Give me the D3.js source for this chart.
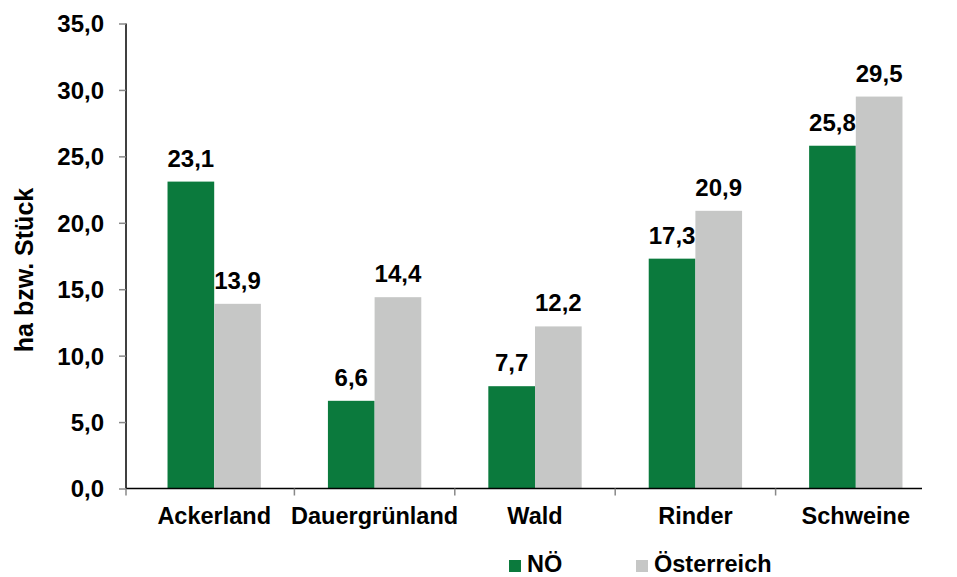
<!DOCTYPE html>
<html>
<head>
<meta charset="utf-8">
<script src="https://cdn.jsdelivr.net/npm/d3@7"></script>
<style>
  html, body { margin: 0; padding: 0; background: #fff; }
  svg { display: block; }
  text { font-family: "Liberation Sans", Arial, sans-serif; font-weight: bold; fill: #000; }
</style>
</head>
<body>
<svg id="chart" width="957" height="577"></svg>
<script>
const categories = ["Ackerland", "Dauergrünland", "Wald", "Rinder", "Schweine"];
const seriesNames = ["NÖ", "Österreich"];
const valuesNOE = [23.1, 6.6, 7.7, 17.3, 25.8];
const valuesAT = [13.9, 14.4, 12.2, 20.9, 29.5];
const yTicks = [0, 5, 10, 15, 20, 25, 30, 35];
const yTitle = "ha bzw. Stück";
const colors = ["#0b7a3d", "#c6c7c6"];

const svg = d3.select("#chart");
const axisX0 = 126, axisX1 = 922;
const y = d3.scaleLinear().domain([0, 35]).range([488.5, 23.5]);
const x0 = d3.scaleBand().domain(categories).range([134, 936]).paddingInner(0.418).paddingOuter(0.209);
const x1 = d3.scaleBand().domain(seriesNames).range([0, x0.bandwidth()]).padding(0);

const fmt = v => d3.format(".1f")(v).replace(".", ",");

// bars
const data = categories.map((c, i) => ({ cat: c, vals: [valuesNOE[i], valuesAT[i]] }));
const groups = svg.selectAll("g.grp").data(data).enter().append("g")
  .attr("class", "grp")
  .attr("transform", d => `translate(${x0(d.cat)},0)`);
groups.selectAll("rect").data(d => d.vals.map((v, j) => ({ s: seriesNames[j], v, j })))
  .enter().append("rect")
  .attr("x", d => x1(d.s))
  .attr("y", d => y(d.v))
  .attr("width", x1.bandwidth())
  .attr("height", d => y(0) - y(d.v))
  .attr("fill", d => colors[d.j]);
groups.selectAll("text.val").data(d => d.vals.map((v, j) => ({ s: seriesNames[j], v, j })))
  .enter().append("text")
  .attr("class", "val")
  .attr("x", d => x1(d.s) + x1.bandwidth() / 2)
  .attr("y", d => y(d.v) - 15)
  .attr("text-anchor", "middle")
  .style("font-size", "24px")
  .text(d => fmt(d.v));

// y axis
const yAxis = d3.axisLeft(y).tickValues(yTicks).tickSize(7).tickPadding(15).tickFormat(fmt);
const gy = svg.append("g").attr("transform", `translate(${axisX0},0)`).call(yAxis);
gy.select(".domain").attr("stroke", "#000").attr("stroke-width", 1.5).attr("d", `M0,${y(35)}V${y(0)}`);
gy.selectAll(".tick line").attr("stroke", "#888").attr("stroke-width", 1.5);
gy.selectAll(".tick text").style("font-size", "24px").attr("fill", "#000").attr("dy", "0.35em");

// x axis
const gx = svg.append("g").attr("transform", `translate(0,${y(0)})`);
gx.append("line").attr("x1", axisX0).attr("x2", axisX1).attr("y1", 0).attr("y2", 0)
  .attr("stroke", "#000").attr("stroke-width", 1.5);
const bounds = [axisX0].concat(categories.slice(1).map(c => x0(c) - x0.step() * x0.paddingInner() / 2));
gx.selectAll("line.tk").data(bounds).enter().append("line")
  .attr("class", "tk")
  .attr("x1", d => d).attr("x2", d => d).attr("y1", 0).attr("y2", 7)
  .attr("stroke", "#888").attr("stroke-width", 1.5);
gx.selectAll("text.cat").data(categories).enter().append("text")
  .attr("class", "cat")
  .attr("x", d => x0(d) + x0.bandwidth() / 2)
  .attr("y", 35)
  .attr("text-anchor", "middle")
  .style("font-size", "23.5px")
  .text(d => d);

// y title
svg.append("text")
  .attr("transform", "translate(33,270) rotate(-90)")
  .attr("text-anchor", "middle")
  .style("font-size", "25px")
  .text(yTitle);

// legend
const legendX = [509, 636];
const lg = svg.selectAll("g.leg").data(seriesNames).enter().append("g")
  .attr("class", "leg")
  .attr("transform", (d, i) => `translate(${legendX[i]},0)`);
lg.append("rect").attr("x", 0).attr("y", 560).attr("width", 12).attr("height", 12)
  .attr("fill", (d, i) => colors[i]);
lg.append("text").attr("x", 18).attr("y", 572).style("font-size", "23.5px").text(d => d);
</script>
</body>
</html>
